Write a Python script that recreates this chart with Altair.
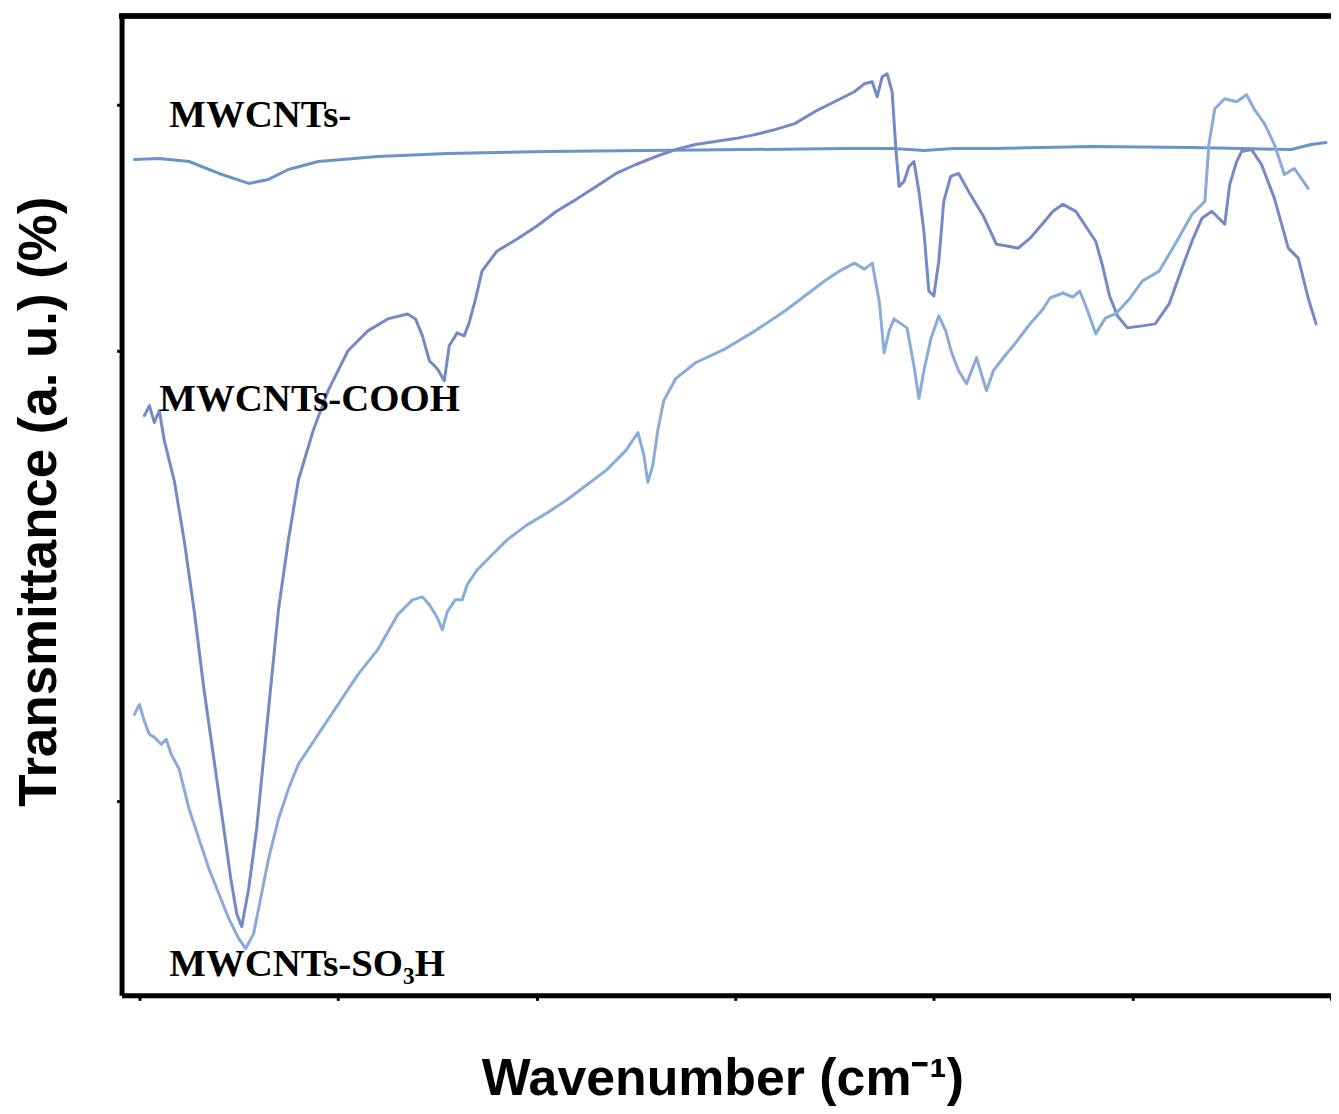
import altair as alt
import pandas as pd

# ---- data (wavenumber cm-1, transmittance a.u.) ----
a_wn = [4012.5, 3950, 3875, 3800, 3725, 3675, 3625, 3550, 3400, 3225, 2975, 2725,
        2475, 2225, 2100, 2025, 1950, 1850, 1600, 1350, 1225, 1100, 1050, 1012.5]
a_t = [83.9, 84.0, 83.7, 82.5, 81.5, 81.9, 82.9, 83.7, 84.2, 84.5, 84.7, 84.8,
       84.9, 85.0, 85.0, 84.8, 85.0, 85.0, 85.2, 85.1, 85.0, 84.9, 85.4, 85.6]

b_wn = [3987.5, 3975, 3962.5, 3950, 3937.5, 3912.5, 3887.5, 3862.5, 3837.5, 3812.5,
        3787.5, 3770, 3755, 3742.5, 3725, 3705, 3687.5, 3670, 3650, 3625, 3600,
        3562.5, 3525, 3475, 3425, 3375, 3325, 3305, 3287.5, 3270, 3250, 3232.5,
        3220, 3200, 3182.5, 3170, 3155, 3137.5, 3100, 3050, 3000, 2950, 2900,
        2850, 2800, 2750, 2700, 2650, 2600, 2550, 2500, 2450, 2400, 2350, 2300,
        2250, 2200, 2175, 2155, 2142.5, 2130, 2117.5, 2105, 2095, 2087.5, 2075,
        2062.5, 2050, 2037.5, 2025, 2012.5, 2000, 1987.5, 1975, 1957.5, 1937.5,
        1912.5, 1875, 1842.5, 1812.5, 1787.5, 1757.5, 1725, 1700, 1675, 1642.5,
        1612.5, 1592.5, 1575, 1557.5, 1537.5, 1512.5, 1475, 1442.5, 1407.5, 1375,
        1350, 1325, 1300, 1267.5, 1255, 1237.5, 1225, 1200, 1175, 1142.5, 1107.5,
        1082.5, 1057.5, 1037.5]
b_t = [58.2, 59.2, 57.5, 58.7, 55.7, 51.7, 45.7, 38.7, 30.7, 23.7,
       16.7, 11.7, 8.2, 6.9, 10.7, 16.7, 23.7, 30.7, 38.7, 45.7, 51.7,
       56.7, 60.7, 64.7, 66.7, 67.9, 68.4, 67.9, 66.2, 63.7, 62.9, 61.7,
       65.2, 66.5, 66.2, 67.5, 69.7, 72.7, 74.7, 75.9, 77.2, 78.7, 79.9,
       81.2, 82.5, 83.4, 84.2, 84.9, 85.4, 85.7, 86.0, 86.4, 86.9, 87.5, 88.7,
       89.7, 90.7, 91.5, 91.7, 90.2, 92.2, 92.5, 90.7, 84.7, 81.2, 81.7,
       83.2, 83.7, 80.7, 76.7, 70.7, 70.2, 73.7, 79.7, 82.2, 82.5,
       80.7, 78.2, 75.4, 75.2, 75.0, 76.0, 77.5, 78.7, 79.4, 78.7,
       76.9, 75.7, 73.2, 70.2, 68.2, 67.0, 67.2, 67.4, 69.4, 73.0,
       75.7, 78.0, 78.7, 77.4, 81.4, 83.7, 84.7, 84.9, 83.4, 80.0, 75.0,
       74.0, 70.0, 67.4]

c_wn = [4012.5, 4000, 3987.5, 3975, 3962.5, 3945, 3932.5, 3920, 3900, 3875, 3850,
        3825, 3800, 3775, 3750, 3732.5, 3712.5, 3695, 3675, 3650, 3625, 3600,
        3550, 3500, 3450, 3400, 3350, 3312.5, 3287.5, 3270, 3250, 3237.5, 3225,
        3205, 3187.5, 3175, 3150, 3112.5, 3075, 3025, 2975, 2925, 2875, 2825,
        2775, 2745, 2730, 2720, 2707.5, 2695, 2680, 2650, 2600, 2525, 2450, 2375,
        2325, 2275, 2237.5, 2200, 2175, 2155, 2137.5, 2125, 2112.5, 2100, 2067.5,
        2050, 2037.5, 2025, 2007.5, 1987.5, 1970, 1955, 1937.5, 1917.5, 1892.5,
        1867.5, 1850, 1825, 1800, 1757.5, 1725, 1707.5, 1675, 1650, 1632.5,
        1612.5, 1592.5, 1567.5, 1542.5, 1507.5, 1475, 1432.5, 1392.5, 1350,
        1317.5, 1307.5, 1292.5, 1267.5, 1237.5, 1212.5, 1192.5, 1167.5, 1142.5,
        1117.5, 1092.5, 1075, 1057.5]
c_t = [28.2, 29.2, 27.5, 26.2, 25.9, 25.2, 25.7, 24.2, 22.7, 18.7, 15.7,
       12.7, 10.2, 7.7, 5.7, 4.7, 6.2, 9.7, 13.7, 17.7, 20.7, 23.2,
       26.2, 29.2, 32.2, 34.7, 38.2, 39.7, 40.0, 39.2, 37.9, 36.7, 38.5,
       39.7, 39.7, 41.2, 42.7, 44.2, 45.7, 47.2, 48.4, 49.7, 51.2, 52.7,
       54.7, 56.5, 54.2, 51.5, 53.2, 56.7, 59.7, 61.9, 63.5, 64.9, 66.7, 68.7,
       70.2, 71.7, 72.7, 73.5, 72.9, 73.5, 69.7, 64.5, 66.7, 67.9, 67.0,
       63.2, 59.9, 62.7, 65.9, 68.2, 66.7, 64.5, 62.7, 61.4, 64.0,
       60.7, 62.7, 64.0, 65.2, 67.4, 68.9, 70.0, 70.5, 70.1, 70.7,
       68.7, 66.4, 68.0, 68.4, 69.9, 71.7, 72.7, 75.4, 78.4,
       79.7, 85.4, 89.0, 90.0, 89.7, 90.4, 88.9, 87.5, 85.4,
       82.4, 83.0, 82.0, 81.0]

series_names = ["MWCNTs-", "MWCNTs-COOH", "MWCNTs-SO3H"]
series_colors = ["#6b93c8", "#7489c6", "#88abda"]

label_text = ["MWCNTs-", "MWCNTs-COOH", "MWCNTs-SO\u2083H"]
label_wn = [3925, 3950, 3925]
label_t = [87.2, 58.7, 1.9]

x_ticks = [4000, 3500, 3000, 2500, 2000, 1500, 1000]
y_ticks = [89.4, 64.7, 19.5]

rows = []
for name, xs, ys in [(series_names[0], a_wn, a_t),
                     (series_names[1], b_wn, b_t),
                     (series_names[2], c_wn, c_t)]:
    for x, y in zip(xs, ys):
        rows.append({"series": name, "wn": x, "t": y})
df = pd.DataFrame(rows)
labels = pd.DataFrame({"text": label_text, "wn": label_wn, "t": label_t})

W, H = 1214, 983

xscale = alt.Scale(domain=[4045, 1000], nice=False, zero=False)
yscale = alt.Scale(domain=[0, 98.3], nice=False, zero=False)

x_axis = alt.Axis(
    values=x_ticks, labels=False, grid=False, ticks=True, tickSize=5, tickWidth=3,
    tickColor="black", domain=True, domainColor="black", domainWidth=5,
    title="Wavenumber (cm\u207b\u00b9)", titleFont="Liberation Sans", titleFontSize=52,
    titleFontWeight="bold", titleColor="black", titleX=603, titleY=84,
    titleBaseline="middle", titleAlign="center")
y_axis = alt.Axis(
    values=y_ticks, labels=False, grid=False, ticks=True, tickSize=5, tickWidth=3,
    tickColor="black", domain=True, domainColor="black", domainWidth=5,
    title="Transmittance (a. u.) (%)", titleFont="Liberation Sans", titleFontSize=53,
    titleFontWeight="bold", titleColor="black", titleX=-82, titleY=487,
    titleBaseline="middle", titleAlign="center", titleAngle=270)

lines = alt.Chart(df).mark_line(strokeJoin="round", strokeCap="round").encode(
    x=alt.X("wn:Q", scale=xscale, axis=x_axis),
    y=alt.Y("t:Q", scale=yscale, axis=y_axis),
    color=alt.Color("series:N", scale=alt.Scale(domain=series_names, range=series_colors),
                    legend=None),
    strokeWidth=alt.StrokeWidth("series:N",
                                scale=alt.Scale(domain=series_names, range=[3, 3, 4]),
                                legend=None),
    order=alt.Order("wn:Q", sort="descending"),
)

text = alt.Chart(labels).mark_text(
    font="Liberation Serif", fontWeight="bold", fontSize=39, align="left",
    baseline="alphabetic", color="black").encode(
    x=alt.X("wn:Q", scale=xscale),
    y=alt.Y("t:Q", scale=yscale),
    text="text:N",
)

top_border = alt.Chart(labels).mark_rule(color="black", strokeWidth=5).encode(
    x=alt.value(-2.5), x2=alt.value(W), y=alt.value(0))

chart = alt.layer(lines, text, top_border).properties(
    width=W, height=H,
    autosize=alt.AutoSizeParams(type="none"),
    padding={"left": 114, "top": 6, "right": 0, "bottom": 115},
    background="white",
).configure_view(stroke=None)

chart.save("out.html", embed_options={"renderer": "svg", "actions": False})
